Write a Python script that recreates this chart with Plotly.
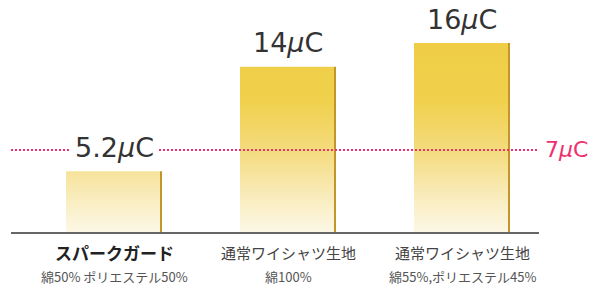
import plotly.graph_objects as go

# ---- data ----
categories = ["スパークガード", "通常ワイシャツ生地", "通常ワイシャツ生地"]
subtitles = ["綿50% ポリエステル50%", "綿100%", "綿55%,ポリエステル45%"]
values = [5.2, 14, 16]
value_labels = ["5.2<i>μ</i>C", "14<i>μ</i>C", "16<i>μ</i>C"]
threshold = 7
threshold_label = "7<i>μ</i>C"

W, H = 593, 287
PX_PER_CAT = 174.0
CENTER0_PX = 114.0
BASE_PX = 233.0
PX_PER_UNIT = 11.87

def xd(px):
    return (px - CENTER0_PX) / PX_PER_CAT

half_left = 48 / PX_PER_CAT
half_right_fill = 46 / PX_PER_CAT
border_off = 47 / PX_PER_CAT

colorscale = [
    [0.0, "#fdf8e7"],
    [0.175, "#f9edc0"],
    [0.44, "#f4db7c"],
    [0.70, "#f0d04c"],
    [1.0, "#efcd46"],
]

fig = go.Figure()
vmax = max(values)
for i, v in enumerate(values):
    fig.add_trace(go.Scatter(
        x=[i - half_left, i + half_right_fill, i + half_right_fill, i - half_left, i - half_left],
        y=[0, 0, v, v, 0],
        mode="lines", line=dict(width=0), fill="toself",
        fillgradient=dict(type="vertical", colorscale=colorscale, start=0, stop=vmax),
        hoverinfo="skip", showlegend=False,
    ))
    fig.add_trace(go.Scatter(
        x=[i + border_off, i + border_off], y=[0, v],
        mode="lines", line=dict(color="#c3962a", width=2),
        hoverinfo="skip", showlegend=False,
    ))

x_left = xd(11)
x_right = xd(539)

shapes = [
    dict(type="line", xref="x", yref="y", x0=x_left, x1=x_right, y0=0, y1=0,
         line=dict(color="#666666", width=2), layer="above"),
    dict(type="line", xref="x", yref="y", x0=x_left, x1=xd(539), y0=threshold, y1=threshold,
         line=dict(color="#f0306e", width=2, dash="2px,2px"), layer="above"),
]

annotations = []
for i, (v, lab) in enumerate(zip(values, value_labels)):
    annotations.append(dict(
        x=i, y=v, xref="x", yref="y", text=lab, showarrow=False,
        yanchor="middle", yshift=24, bgcolor="white", borderpad=4,
        font=dict(family="DejaVu Sans", size=27, color="#333333"),
    ))
for i, (c, s) in enumerate(zip(categories, subtitles)):
    bold = i == 0
    annotations.append(dict(
        x=i, y=1 - 252.5 / H, xref="x", yref="paper",
        text=f"<b>{c}</b>" if bold else c, showarrow=False, yanchor="middle",
        font=dict(family="Noto Sans CJK JP", size=17 if bold else 15,
                  color="#222222" if bold else "#444444"),
    ))
    annotations.append(dict(
        x=i, y=1 - 276 / H, xref="x", yref="paper", text=s, showarrow=False,
        yanchor="middle",
        font=dict(family="Noto Sans CJK JP", size=13, color="#555555"),
    ))
annotations.append(dict(
    x=xd(545), y=threshold, xref="x", yref="y", text=threshold_label,
    showarrow=False, xanchor="left", yanchor="middle", xshift=-2,
    font=dict(family="DejaVu Sans", size=22, color="#f0306e"),
))

fig.update_layout(
    width=W, height=H, margin=dict(l=0, r=0, t=0, b=0),
    paper_bgcolor="white", plot_bgcolor="white",
    xaxis=dict(range=[xd(0), xd(W)], visible=False, fixedrange=True),
    yaxis=dict(range=[-(H - BASE_PX) / PX_PER_UNIT, BASE_PX / PX_PER_UNIT],
               visible=False, fixedrange=True),
    shapes=shapes, annotations=annotations, showlegend=False,
)

fig.write_html("out.html", config={"displayModeBar": False},
               post_script="document.body.style.margin='0';document.body.style.overflow='hidden';")
